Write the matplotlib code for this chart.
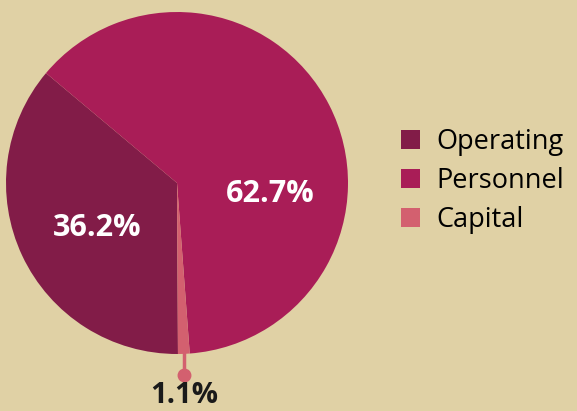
import numpy as np
import matplotlib.pyplot as plt
from matplotlib.patches import Patch

labels = ["Operating", "Personnel", "Capital"]
values = [36.2, 62.7, 1.1]
colors = ["#821c48", "#a91d57", "#d3606f"]
bg = "#e0d1a5"

fig = plt.figure(figsize=(5.77, 4.11), dpi=100)
fig.patch.set_facecolor(bg)

W, H = 577, 411
cx, cy, r = 177, 183, 171
ax = fig.add_axes([(cx - r) / W, (H - cy - r) / H, 2 * r / W, 2 * r / H])
ax.set_facecolor(bg)

start = 140 + values[0] * 3.6
wedges, _ = ax.pie(values, colors=colors, startangle=start, counterclock=False,
                   radius=1, wedgeprops=dict(linewidth=0))
ax.set_xlim(-1, 1)
ax.set_ylim(-1, 1)
ax.set_aspect("equal")
ax.axis("off")

font = "Open Sans"
ax.text(0.544, -0.064, f"{values[1]}%", ha="center", va="center", color="white",
        fontsize=22, fontweight="bold", family=font)
ax.text(-0.468, -0.263, f"{values[0]}%", ha="center", va="center", color="white",
        fontsize=22, fontweight="bold", family=font)

# leader for the small slice
w = wedges[2]
mid = np.deg2rad((w.theta1 + w.theta2) / 2)
x0 = np.cos(mid)
ax.plot([x0, x0], [-0.99, -1.125], color=colors[2], lw=2.5, clip_on=False,
        solid_capstyle="butt")
ax.plot([x0], [-1.125], "o", color=colors[2], ms=9, clip_on=False)
ax.text(x0, -1.245, f"{values[2]}%", ha="center", va="center", color="#1a1a1a",
        fontsize=21, fontweight="bold", family=font, clip_on=False)

handles = [Patch(facecolor=c, edgecolor="none") for c in colors]
fig.legend(handles, labels, loc="center left", bbox_to_anchor=(390 / W, 1 - 181 / H),
           frameon=False, handlelength=0.72, handleheight=0.72,
           handletextpad=0.6, labelspacing=0.4, borderaxespad=0,
           prop=dict(family=font, size=19.5))

fig.savefig("out.png", dpi=100, facecolor=bg)
